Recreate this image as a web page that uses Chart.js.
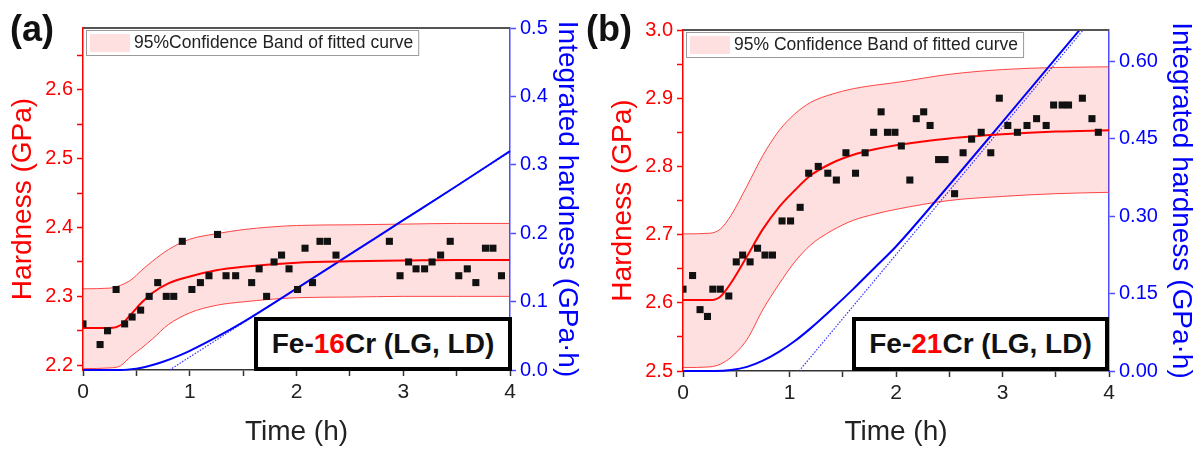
<!DOCTYPE html>
<html>
<head>
<meta charset="utf-8">
<script src="https://cdn.jsdelivr.net/npm/chart.js@4.4.1/dist/chart.umd.min.js"></script>
<style>
  html, body { margin: 0; padding: 0; background: #fff; }
  #wrap { position: relative; width: 1203px; height: 450px; overflow: hidden; font-family: "Liberation Sans", Arial, sans-serif; }
  canvas { position: absolute; top: 0; }
  #chartA { left: 0; }
  #chartB { left: 600px; }
  .panel { position: absolute; font-weight: bold; font-size: 36px; line-height: 36px; color: #111; }
  .sample { position: absolute; box-sizing: border-box; border: 4px solid #000; background: #fff;
            font-weight: bold; font-size: 28px; color: #111; display: flex; align-items: center; justify-content: center; }
  .sample span { color: #f00; }
</style>
</head>
<body>
<div id="wrap">
  <canvas id="chartA" width="600" height="450"></canvas>
  <canvas id="chartB" width="603" height="450"></canvas>
  <div class="panel" style="left:10px; top:11px;">(a)</div>
  <div class="panel" style="left:586px; top:11px;">(b)</div>
  <div class="sample" style="left:254px; top:317px; width:258px; height:54px;">Fe-<span>16</span>Cr (LG, LD)</div>
  <div class="sample" style="left:852px; top:317px; width:257px; height:54px;">Fe-<span>21</span>Cr (LG, LD)</div>
</div>
<script>
// ---- Fe-16Cr: measured hardness (h, GPa)
const timeA = [0, 0.16, 0.23, 0.31, 0.39, 0.46, 0.54, 0.62, 0.70, 0.78, 0.85, 0.93, 1.02, 1.10, 1.18,
  1.26, 1.34, 1.43, 1.58, 1.65, 1.72, 1.79, 1.86, 1.93, 2.01, 2.08, 2.15, 2.22, 2.29, 2.37,
  2.87, 2.97, 3.05, 3.12, 3.20, 3.27, 3.35, 3.44, 3.52, 3.60, 3.68, 3.77, 3.84, 3.92];
const hardA = [2.26, 2.23, 2.25, 2.31, 2.26, 2.27, 2.28, 2.30, 2.32, 2.30, 2.30, 2.38, 2.31, 2.32, 2.33,
  2.39, 2.33, 2.33, 2.32, 2.34, 2.30, 2.35, 2.36, 2.34, 2.31, 2.37, 2.32, 2.38, 2.38, 2.36,
  2.38, 2.33, 2.35, 2.34, 2.34, 2.35, 2.36, 2.38, 2.33, 2.34, 2.32, 2.37, 2.37, 2.33];

// fitted curve with 95% confidence band
const fitTimeA = [0, 0.25, 0.35, 0.45, 0.55, 0.65, 0.8, 1.0, 1.25, 1.5, 2.0, 2.5, 3.0, 3.5, 4.0];
const fitA   = [2.254, 2.254, 2.258, 2.274, 2.291, 2.305, 2.319, 2.329, 2.338, 2.343, 2.349, 2.351, 2.352, 2.353, 2.353];
const upperA = [2.311, 2.312, 2.316, 2.324, 2.338, 2.351, 2.368, 2.383, 2.391, 2.397, 2.403, 2.404, 2.405, 2.406, 2.406];
const lowerA = [2.195, 2.196, 2.199, 2.213, 2.225, 2.238, 2.259, 2.276, 2.287, 2.292, 2.298, 2.299, 2.300, 2.300, 2.300];

// integrated hardness (GPa·h) and its linear stage
const intTimeA = [0, 0.35, 0.5, 0.6, 0.75, 0.9, 1.0, 1.25, 1.5, 2.0, 2.5, 3.0, 3.5, 4.0];
const intA     = [0, 0, 0.002, 0.005, 0.012, 0.021, 0.028, 0.048, 0.070, 0.119, 0.169, 0.219, 0.269, 0.320];
const tanTimeA = [0.81, 4.0];
const tanA     = [0, 0.319];

// ---- Fe-21Cr: measured hardness
const timeB = [0, 0.09, 0.16, 0.23, 0.28, 0.35, 0.43, 0.50, 0.56, 0.63, 0.70, 0.77, 0.84, 0.93, 1.01,
  1.10, 1.18, 1.27, 1.36, 1.44, 1.53, 1.62, 1.71, 1.79, 1.86, 1.92, 1.99, 2.05, 2.13, 2.19,
  2.26, 2.32, 2.40, 2.46, 2.55, 2.63, 2.71, 2.80, 2.89, 2.97, 3.05, 3.14, 3.23, 3.32, 3.41,
  3.48, 3.56, 3.62, 3.75, 3.84, 3.90];
const hardB = [2.62, 2.64, 2.59, 2.58, 2.62, 2.62, 2.61, 2.66, 2.67, 2.66, 2.68, 2.67, 2.67, 2.72, 2.72,
  2.74, 2.79, 2.80, 2.79, 2.78, 2.82, 2.79, 2.82, 2.85, 2.88, 2.85, 2.85, 2.83, 2.78, 2.87,
  2.88, 2.86, 2.81, 2.81, 2.76, 2.82, 2.84, 2.85, 2.82, 2.90, 2.86, 2.85, 2.86, 2.87, 2.86,
  2.89, 2.89, 2.89, 2.90, 2.87, 2.85];

const fitTimeB = [0, 0.25, 0.35, 0.45, 0.6, 0.75, 0.9, 1.05, 1.2, 1.4, 1.6, 1.8, 2.0, 2.5, 3.0, 3.5, 4.0];
const fitB   = [2.604, 2.604, 2.609, 2.629, 2.668, 2.708, 2.740, 2.765, 2.787, 2.805, 2.817, 2.825, 2.831, 2.841, 2.847, 2.851, 2.853];
const upperB = [2.701, 2.702, 2.708, 2.728, 2.771, 2.816, 2.852, 2.877, 2.894, 2.906, 2.914, 2.919, 2.923, 2.935, 2.942, 2.945, 2.946];
const lowerB = [2.505, 2.506, 2.510, 2.520, 2.546, 2.590, 2.627, 2.660, 2.685, 2.706, 2.721, 2.730, 2.737, 2.750, 2.756, 2.760, 2.762];

const intTimeB = [0, 0.3, 0.45, 0.6, 0.75, 0.9, 1.05, 1.2, 1.4, 1.6, 1.8, 2.0, 2.5, 3.0, 3.5, 4.0];
const intB     = [0, 0, 0.002, 0.008, 0.020, 0.037, 0.058, 0.083, 0.120, 0.159, 0.200, 0.241, 0.360, 0.482, 0.605, 0.728];
const tanTimeB = [1.09, 4.0];
const tanB     = [0, 0.72];

// ---- axis ranges
const hardRangeA = [2.193, 2.69];
const intRangeA  = [0, 0.5];
const hardRangeB = [2.5, 3.0];
const intRangeB  = [0, 0.66];

Chart.defaults.font.family = '"Liberation Sans", Arial, sans-serif';

const pts = (xs, ys) => xs.map((x, i) => ({ x, y: ys[i] }));
const isTenth = v => Math.abs(v * 10 - Math.round(v * 10)) < 1e-6;

// top frame line + boxed legend for the confidence band
const frameBox = {
  id: 'frameBox',
  afterDatasetsDraw(chart, args, opts) {
    const { ctx, chartArea: a } = chart;
    ctx.save();
    ctx.strokeStyle = '#555';
    ctx.lineWidth = 2;
    ctx.beginPath();
    ctx.moveTo(a.left, a.top);
    ctx.lineTo(a.right, a.top);
    ctx.stroke();

    const band = chart.data.datasets[opts.bandIndex];
    ctx.font = '17.5px "Liberation Sans", Arial, sans-serif';
    const tw = ctx.measureText(band.label).width;
    const x = a.left + 3, y = a.top + 2, h = 25, w = 48 + tw + 5;
    ctx.fillStyle = '#fff';
    ctx.fillRect(x, y, w, h);
    ctx.strokeStyle = '#9a9a9a';
    ctx.lineWidth = 1;
    ctx.strokeRect(x + 0.5, y + 0.5, w, h);
    ctx.fillStyle = band.backgroundColor;
    ctx.fillRect(x + 4, y + 4, 40, h - 7);
    ctx.fillStyle = '#222';
    ctx.textBaseline = 'middle';
    ctx.fillText(band.label, x + 48, y + h / 2 + 1);
    ctx.restore();
  }
};

function buildChart(id, d) {
  const red = '#ff0000', blue = '#0000ff';
  return new Chart(document.getElementById(id), {
    type: 'line',
    plugins: [frameBox],
    data: {
      datasets: [
        { label: 'Hardness', data: pts(d.t, d.h), showLine: false, pointStyle: 'rect',
          pointRadius: 5, pointBorderWidth: 0, pointBackgroundColor: '#111', yAxisID: 'y', order: 0 },
        { label: 'Fitted curve', data: pts(d.fitT, d.fit), borderColor: red, borderWidth: 2,
          pointRadius: 0, cubicInterpolationMode: 'monotone', yAxisID: 'y', order: 1 },
        { label: 'Integrated hardness', data: pts(d.intT, d.int), borderColor: blue, borderWidth: 2,
          pointRadius: 0, cubicInterpolationMode: 'monotone', yAxisID: 'y1', order: 2,
          clip: { left: 2, top: 0, right: 2, bottom: 3 } },
        { label: 'Linear stage', data: pts(d.tanT, d.tan), borderColor: '#3333ff', borderWidth: 1.2,
          borderDash: [1.5, 1.5], pointRadius: 0, yAxisID: 'y1', order: 3, clip: { left: 2, top: 0, right: 2, bottom: 3 } },
        { label: d.bandLabel, data: pts(d.fitT, d.upper), borderColor: 'rgba(255,40,40,0.85)', borderWidth: 1,
          backgroundColor: 'rgba(255,0,0,0.12)', fill: '+1', pointRadius: 0,
          cubicInterpolationMode: 'monotone', yAxisID: 'y', order: 4 },
        { label: 'Lower band', data: pts(d.fitT, d.lower), borderColor: 'rgba(255,40,40,0.85)', borderWidth: 1,
          fill: false, pointRadius: 0, cubicInterpolationMode: 'monotone', yAxisID: 'y', order: 5 }
      ]
    },
    options: {
      responsive: false,
      animation: false,
      layout: { padding: { top: d.top, left: 0, right: 0, bottom: 0 } },
      plugins: {
        legend: { display: false },
        tooltip: { enabled: false },
        frameBox: { bandIndex: 4 }
      },
      scales: {
        x: {
          type: 'linear', min: 0, max: 4,
          afterFit: s => { s.height = d.xHeight; },
          border: { color: '#333', width: 1.5 },
          grid: { drawOnChartArea: false, tickLength: 6, tickColor: '#333', tickWidth: 1.5 },
          ticks: { stepSize: 0.5, autoSkip: false, maxRotation: 0, padding: 4, color: '#222',
                   font: { size: 21 }, callback: v => Number.isInteger(v) ? String(v) : '' },
          title: { display: true, text: 'Time (h)', color: '#222', font: { size: 28, lineHeight: 1.2 },
                   padding: { top: 0, bottom: 1 } }
        },
        y: {
          position: 'left', min: d.hardRange[0], max: d.hardRange[1],
          afterFit: s => { s.width = 83; },
          border: { color: red, width: 1.5 },
          grid: { drawOnChartArea: false, tickLength: 6, tickColor: red, tickWidth: 1.5 },
          ticks: { stepSize: 0.05, includeBounds: false, autoSkip: false, padding: 4, color: red,
                   font: { size: 20 }, callback: v => isTenth(v) ? v.toFixed(1) : '' },
          title: { display: true, text: 'Hardness (GPa)', color: red, font: { size: 28, lineHeight: 1.2 },
                   padding: { top: 6, bottom: 0 } }
        },
        y1: {
          position: 'right', min: d.intRange[0], max: d.intRange[1],
          afterFit: s => { s.width = d.rightWidth; },
          border: { color: '#4d4dff', width: 1.5 },
          grid: { drawOnChartArea: false, tickLength: 6, tickColor: '#4d4dff', tickWidth: 1.5 },
          ticks: { stepSize: d.intStep, includeBounds: false, autoSkip: false, padding: 4, color: blue,
                   font: { size: 20 }, callback: v => v.toFixed(d.intDigits) },
          title: { display: true, text: 'Integrated hardness (GPa·h)', color: blue,
                   font: { size: 28, lineHeight: 1.2 }, padding: { top: d.rightTitlePad, bottom: 0 } }
        }
      }
    }
  });
}

buildChart('chartA', {
  t: timeA, h: hardA, fitT: fitTimeA, fit: fitA, upper: upperA, lower: lowerA,
  intT: intTimeA, int: intA, tanT: tanTimeA, tan: tanA,
  bandLabel: '95%Confidence Band of fitted curve',
  hardRange: hardRangeA, intRange: intRangeA, intStep: 0.1, intDigits: 1,
  top: 28, xHeight: 80, rightWidth: 90, rightTitlePad: 16
});

buildChart('chartB', {
  t: timeB, h: hardB, fitT: fitTimeB, fit: fitB, upper: upperB, lower: lowerB,
  intT: intTimeB, int: intB, tanT: tanTimeB, tan: tanB,
  bandLabel: '95% Confidence Band of fitted curve',
  hardRange: hardRangeB, intRange: intRangeB, intStep: 0.15, intDigits: 2,
  top: 30, xHeight: 79, rightWidth: 94, rightTitlePad: 5
});
</script>
</body>
</html>
